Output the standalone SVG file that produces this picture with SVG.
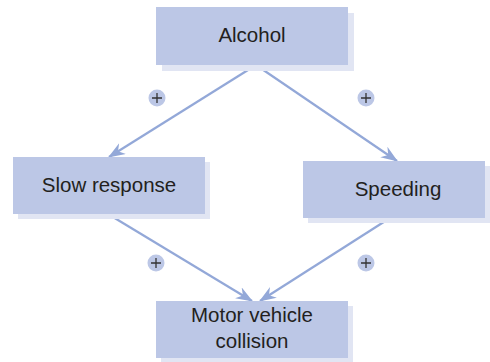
<svg xmlns="http://www.w3.org/2000/svg" width="490" height="362" viewBox="0 0 490 362">
  <style>
    .shadow { fill: #e1e5f3; }
    .box { fill: #bcc7e6; }
    .label { font-family: "Liberation Sans", Arial, sans-serif; font-size: 20.5px; fill: #231f20; text-anchor: middle; }
    .link { stroke: #93a8d8; stroke-width: 2.2; fill: none; marker-end: url(#arrow); }
    .sign circle { fill: #bcc7e6; }
    .sign path { stroke: #333; stroke-width: 1.3; fill: none; }
  </style>
  <defs>
    <marker id="arrow" viewBox="0 0 16 12" refX="15" refY="6" markerWidth="17" markerHeight="13" markerUnits="userSpaceOnUse" orient="auto">
      <path d="M0,0 L16,6 L0,12 L5,6 Z" fill="#93a8d8"/>
    </marker>
  </defs>

  <!-- connectors -->
  <g id="connectors">
    <line class="link" x1="256" y1="65" x2="109" y2="157"/>
    <line class="link" x1="256" y1="65" x2="397" y2="161"/>
    <line class="link" x1="108" y1="214" x2="252" y2="301"/>
    <line class="link" x1="390" y1="218" x2="260" y2="301"/>
  </g>

  <!-- polarity signs -->
  <g id="signs">
    <g class="sign"><circle cx="157" cy="98" r="8.5"/><path d="M152,98 H162 M157,93 V103"/></g>
    <g class="sign"><circle cx="366" cy="98" r="8.5"/><path d="M361,98 H371 M366,93 V103"/></g>
    <g class="sign"><circle cx="156" cy="263" r="8.5"/><path d="M151,263 H161 M156,258 V268"/></g>
    <g class="sign"><circle cx="366" cy="263" r="8.5"/><path d="M361,263 H371 M366,258 V268"/></g>
  </g>

  <g id="alcohol">
    <rect class="shadow" x="162" y="13" width="192" height="58"/>
    <rect class="box" x="156" y="7" width="192" height="58"/>
    <text class="label" x="252" y="42">Alcohol</text>
  </g>

  <g id="slow-response">
    <rect class="shadow" x="18" y="162" width="192" height="57"/>
    <rect class="box" x="13" y="157" width="192" height="57"/>
    <text class="label" x="109" y="192">Slow response</text>
  </g>

  <g id="speeding">
    <rect class="shadow" x="308" y="166" width="182" height="57"/>
    <rect class="box" x="303" y="161" width="182" height="57"/>
    <text class="label" x="398" y="196">Speeding</text>
  </g>

  <g id="collision">
    <rect class="shadow" x="161" y="306" width="192" height="57"/>
    <rect class="box" x="156" y="301" width="192" height="57"/>
    <text class="label" x="252" y="322">Motor vehicle</text>
    <text class="label" x="252" y="348">collision</text>
  </g>
</svg>
